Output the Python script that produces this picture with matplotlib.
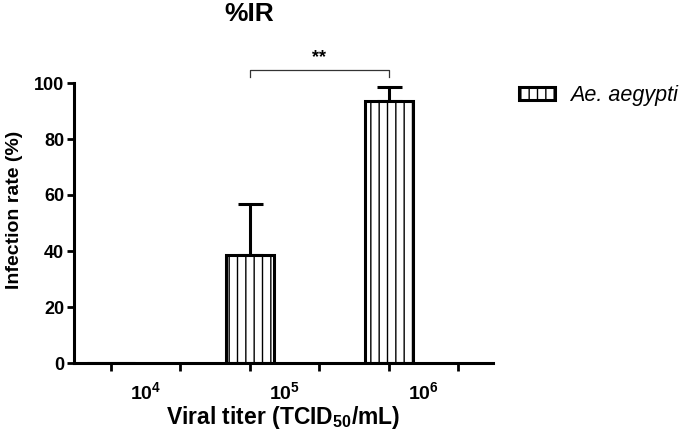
import matplotlib
matplotlib.use("Agg")
import matplotlib.pyplot as plt
import numpy as np

plt.rcParams['font.family'] = ['Liberation Sans', 'DejaVu Sans']
plt.rcParams['mathtext.fontset'] = 'custom'
plt.rcParams['mathtext.rm'] = 'Liberation Sans:bold'
plt.rcParams['mathtext.bf'] = 'Liberation Sans:bold'
plt.rcParams['mathtext.default'] = 'rm'
plt.rcParams['hatch.linewidth'] = 1.0

# data
titers = ['$10^{4}$', '$10^{5}$', '$10^{6}$']
infection_rate = [0, 38.5, 93.5]
err_up = [0, 18.3, 5.0]
series = 'Ae. aegypti'
sig_label = '**'

fig = plt.figure(figsize=(6.85, 4.32), dpi=100)
ax = fig.add_axes([74/685, 69/432, 419/685, 280/432])

pos = np.arange(len(titers)) * 2  # bars on every second tick
ax.bar(pos, infection_rate, width=0.69, color='white', edgecolor='black',
       linewidth=2.2, hatch='||', label=series, zorder=2)
for p, v, e in zip(pos, infection_rate, err_up):
    if v > 0:
        ax.errorbar(p, v, yerr=[[0], [e]], fmt='none', ecolor='black',
                    elinewidth=2.2, capsize=9, capthick=2.2, zorder=1)

# significance bracket between 10^5 and 10^6
y_br = 104.6
ax.plot([pos[1], pos[1], pos[2], pos[2]], [y_br - 2.5, y_br, y_br, y_br - 2.5],
        color='#333333', lw=0.9, clip_on=False)
ax.text((pos[1] + pos[2]) / 2, y_br + 1.5, sig_label, ha='center', va='bottom',
        fontsize=13, fontweight='bold')

ax.set_xlim(-0.53, 5.5)
ax.set_ylim(0, 100)
ax.set_yticks([0, 20, 40, 60, 80, 100])
ax.set_xticks(np.arange(6))
ax.set_xticklabels([])
ax.set_xticks(pos + 0.5, minor=True)
ax.set_xticklabels(titers, minor=True)
ax.tick_params(axis='x', which='minor', length=0, pad=13, labelsize=14)
ax.tick_params(axis='x', which='major', length=6, width=2)
ax.tick_params(axis='y', length=5, width=2, labelsize=13, pad=2)
for lab in ax.get_yticklabels():
    lab.set_fontweight('bold')

for s in ['top', 'right']:
    ax.spines[s].set_visible(False)
for s in ['left', 'bottom']:
    ax.spines[s].set_linewidth(2.2)

ax.set_xlabel('Viral titer (TCID$_{50}$/mL)', fontsize=16.5, fontweight='bold', labelpad=1)
ax.set_ylabel('Infection rate (%)', fontsize=14, fontweight='bold')
ax.yaxis.set_label_coords(-0.122, 0.546)
fig.text(249/685, 1 - 14/432, '%IR', ha='center', va='center', fontsize=19, fontweight='bold')

leg = ax.legend(loc='upper left', bbox_to_anchor=(519/685, 1 - 85/432),
                bbox_transform=fig.transFigure, frameon=False, borderpad=0,
                borderaxespad=0, handlelength=1.65, handleheight=0.55,
                handletextpad=0.7, prop={'size': 15.5, 'style': 'italic'})

fig.savefig('out.png', dpi=100)
